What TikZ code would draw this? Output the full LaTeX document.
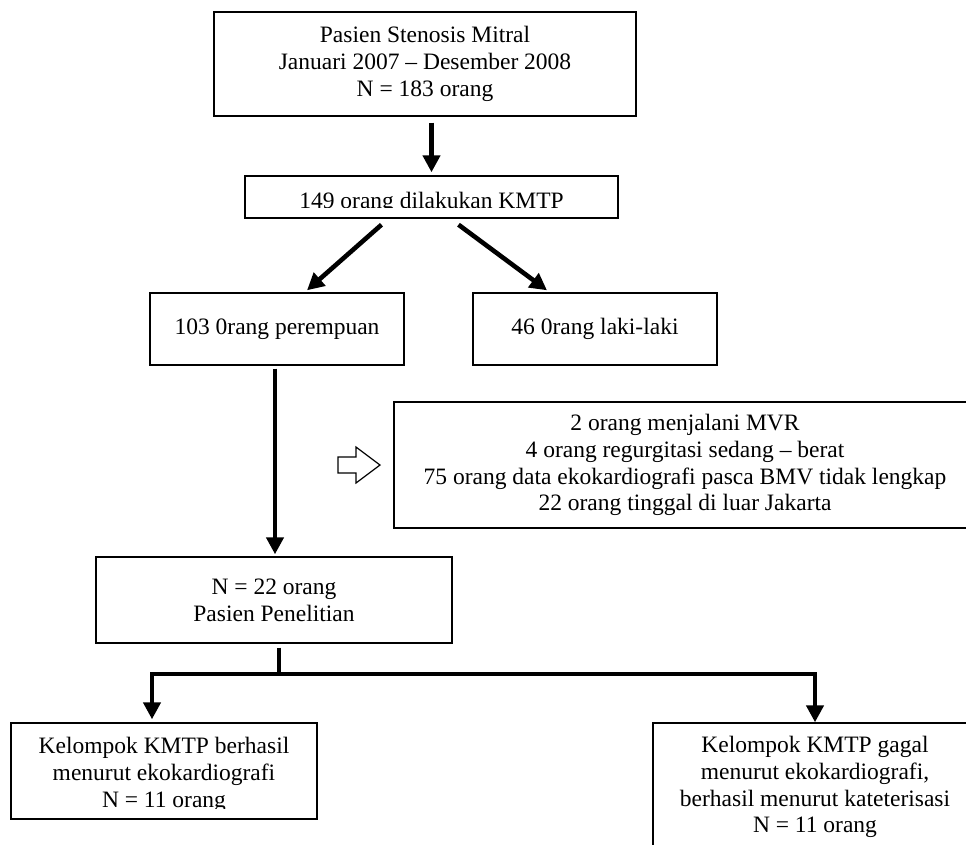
\documentclass[tikz,border=0pt]{standalone}
\usepackage{fontspec}
\setmainfont{Liberation Serif}
\usetikzlibrary{arrows.meta}

\begin{document}
\begin{tikzpicture}[x=1pt, y=-1pt, font=\fontsize{23.5}{26.8}\selectfont,
    box/.style={draw, line width=1.4pt, inner sep=0pt, align=center},
    arr/.style={line width=4.6pt, -{Triangle[length=17pt, width=17pt]}}]
                \clip (0,0) rectangle (966,844);
                \node [box, minimum width=422, minimum height=104] (top) at (425,64) {Pasien Stenosis Mitral\\Januari 2007 – Desember 2008\\N = 183 orang};
                \node [box, minimum width=373, minimum height=42] (kmtp) at (431.5,197) {};
                \begin{scope}
                    \clip (kmtp.north west) rectangle ([yshift=11pt]kmtp.south east);
                    \node [anchor=base] (kmtplabel) at (431.5,208) {149 orang dilakukan KMTP};
                \end{scope}
                \node [box, minimum width=254, minimum height=72] (women) at (277,329) {103 0rang perempuan};
                \node [box, minimum width=244, minimum height=72] (men) at (595,329) {46 0rang laki-laki};
                \node [box, minimum width=582, minimum height=126] (excl) at (685,465) {2 orang menjalani MVR\\4 orang regurgitasi sedang – berat\\75 orang data ekokardiografi pasca BMV tidak lengkap\\22 orang tinggal di luar Jakarta};
                \node [box, minimum width=356, minimum height=86] (study) at (274,600) {N = 22 orang\\Pasien Penelitian};
                \node [box, minimum width=306, minimum height=96] (success) at (164,771) {};
                \begin{scope}
                    \clip (success.north west) rectangle ([yshift=11pt]success.south east);
                    \node [align=center] (successlabel) at (164,775) {Kelompok KMTP berhasil\\menurut ekokardiografi\\N = 11 orang};
                \end{scope}
                \node [box, minimum width=324, minimum height=128] (fail) at (815,787) {Kelompok KMTP gagal\\menurut ekokardiografi,\\berhasil menurut kateterisasi\\N = 11 orang};
                \draw [arr, shorten <=6pt, shorten >=3pt] (top.south -| kmtp.north) -- (kmtp.north);
                \draw [arr] ([xshift=-50pt, yshift=-6pt]kmtp.south) -- ([xshift=30pt, yshift=2pt]women.north);
                \draw [arr] ([xshift=27pt, yshift=-6pt]kmtp.south) -- ([xshift=-48pt, yshift=2pt]men.north);
                \draw [arr, shorten <=3pt, shorten >=2pt] ([xshift=-2pt]women.south) -- ([xshift=-2pt]women.south |- study.north);
                \draw [line width=1.2pt, line join=miter] (338,457) -- (356,457) -- (356,447) -- (380,465) -- (356,483) -- (356,473) -- (338,473) -- cycle;
                \coordinate (fork) at (279,674);
                \draw [line width=4.6pt] ([xshift=5pt, yshift=-4pt]study.south) -- (fork);
                \draw [arr] (fork) -| ([xshift=-12pt, yshift=3pt]success.north);
                \draw [arr] (fork) -| (fail.north);
            \end{tikzpicture}
\end{document}
